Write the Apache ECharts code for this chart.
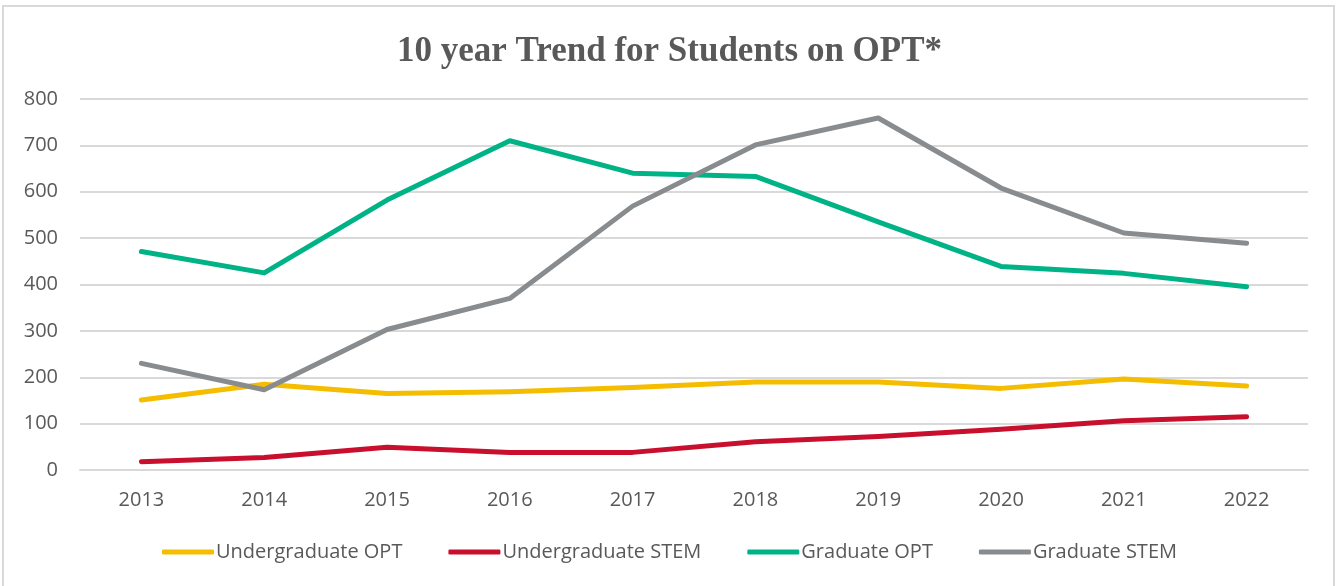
<!DOCTYPE html>
<html>
<head>
<meta charset="utf-8">
<script src="https://cdn.jsdelivr.net/npm/echarts@6/dist/echarts.min.js"></script>
<style>
  html, body { margin: 0; padding: 0; background: #fff; }
  #frame { position: absolute; left: 2px; top: 5px; width: 1333px; height: 590px; border: 2px solid #d9d9d9; box-sizing: border-box; }
  #chart { position: absolute; left: 0; top: 0; width: 1339px; height: 586px; }
</style>
</head>
<body>
<div id="frame"></div>
<div id="chart"></div>
<script>
const years = ['2013', '2014', '2015', '2016', '2017', '2018', '2019', '2020', '2021', '2022'];
const undergradOPT = [151, 185, 165, 169, 178, 190, 190, 176, 196, 181];
const undergradSTEM = [18, 27, 49, 38, 38, 61, 72, 88, 106, 115];
const gradOPT = [471, 425, 582, 710, 640, 633, 535, 439, 424, 395];
const gradSTEM = [230, 173, 303, 370, 569, 701, 759, 608, 511, 489];

const textColor = '#595959';
const font = '"Open Sans", "Liberation Sans", sans-serif';

const chart = echarts.init(document.getElementById('chart'), null, { renderer: 'canvas' });

function line(name, data, color) {
  return {
    name, type: 'line', data,
    symbol: 'none',
    lineStyle: { color, width: 5, cap: 'round', join: 'round' },
    itemStyle: { color }
  };
}

chart.setOption({
  animation: false,
  title: {
    text: '10 year Trend for Students on OPT*',
    left: 'center', top: 29,
    textStyle: { fontFamily: '"Liberation Serif", "Times New Roman", serif', fontWeight: 'bold', fontSize: 35, color: textColor }
  },
  grid: { left: 80, right: 31, top: 99, bottom: 116 },
  legend: {
    bottom: 19, left: 'center', itemGap: 46,
    itemWidth: 52, itemHeight: 5,
    icon: 'roundRect',
    textStyle: { fontFamily: font, fontSize: 20, color: textColor, padding: [0, 0, 0, -3] },
    data: ['Undergraduate OPT', 'Undergraduate STEM', 'Graduate OPT', 'Graduate STEM']
  },
  xAxis: {
    type: 'category', data: years, boundaryGap: true,
    axisLine: { lineStyle: { color: '#d9d9d9', width: 2 } },
    axisTick: { show: false },
    axisLabel: { fontFamily: font, fontSize: 20, color: textColor, margin: 20 }
  },
  yAxis: {
    type: 'value', min: 0, max: 800, interval: 100,
    axisLine: { show: false }, axisTick: { show: false },
    splitLine: { lineStyle: { color: '#d9d9d9', width: 2 } },
    axisLabel: { fontFamily: font, fontSize: 20, color: textColor, margin: 22 }
  },
  series: [
    line('Undergraduate OPT', undergradOPT, '#f5bd00'),
    line('Undergraduate STEM', undergradSTEM, '#c8102e'),
    line('Graduate OPT', gradOPT, '#00b386'),
    line('Graduate STEM', gradSTEM, '#898c8e')
  ]
});
</script>
</body>
</html>
